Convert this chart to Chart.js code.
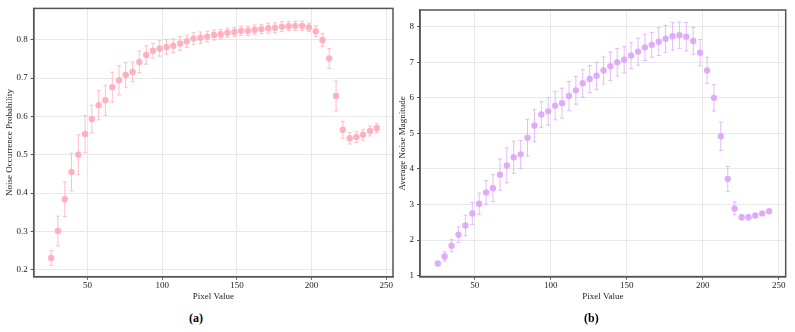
<!DOCTYPE html>
<html>
<head>
<meta charset="utf-8">
<script src="https://cdn.jsdelivr.net/npm/chart.js@4"></script>
<style>
  body { margin: 0; background: #fff; width: 795px; height: 332px; position: relative; overflow: hidden; }
  .box { position: absolute; top: 0; }
  .cap { position: absolute; top: 311px; font: bold 12px "Liberation Serif", serif; color: #000; }
</style>
</head>
<body>
<div class="box" style="left:0;width:397px;height:305px"><canvas id="chartA"></canvas></div>
<div class="box" style="left:394px;width:401px;height:305px"><canvas id="chartB"></canvas></div>
<div class="cap" style="left:189px">(a)</div>
<div class="cap" style="left:584px">(b)</div>
<script>
// pixel value bins (x)
const pixelValues = [25.7, 30.2, 34.8, 39.3, 43.9, 48.4, 52.9, 57.5, 62.0, 66.6,
  71.1, 75.6, 80.2, 84.7, 89.3, 93.8, 98.3, 102.9, 107.4, 112.0,
  116.5, 121.0, 125.6, 130.1, 134.7, 139.2, 143.7, 148.3, 152.8, 157.4,
  161.9, 166.4, 171.0, 175.5, 180.1, 184.6, 189.1, 193.7, 198.2, 202.8,
  207.3, 211.8, 216.4, 220.9, 225.5, 230.0, 234.5, 239.1, 243.6];

// (a) noise occurrence probability + error
const occurrenceProb = [0.231, 0.301, 0.384, 0.455, 0.500, 0.554, 0.593, 0.629, 0.642, 0.676,
  0.694, 0.708, 0.716, 0.742, 0.760, 0.771, 0.777, 0.781, 0.784, 0.790,
  0.796, 0.803, 0.805, 0.808, 0.812, 0.814, 0.818, 0.820, 0.823, 0.823,
  0.826, 0.828, 0.830, 0.831, 0.834, 0.835, 0.836, 0.836, 0.832, 0.822,
  0.799, 0.751, 0.653, 0.565, 0.543, 0.546, 0.552, 0.562, 0.570];
const occurrenceErr = [0.019, 0.039, 0.045, 0.049, 0.052, 0.048, 0.036, 0.038, 0.039, 0.039,
  0.038, 0.032, 0.026, 0.028, 0.024, 0.019, 0.020, 0.019, 0.018, 0.018,
  0.016, 0.015, 0.015, 0.014, 0.013, 0.012, 0.012, 0.012, 0.012, 0.012,
  0.012, 0.012, 0.013, 0.013, 0.013, 0.012, 0.012, 0.012, 0.011, 0.014,
  0.017, 0.026, 0.039, 0.022, 0.015, 0.014, 0.014, 0.013, 0.012];

// (b) average noise magnitude + error
const noiseMagnitude = [1.34, 1.54, 1.84, 2.15, 2.41, 2.75, 3.02, 3.34, 3.46, 3.84,
  4.10, 4.33, 4.41, 4.88, 5.22, 5.53, 5.62, 5.78, 5.85, 6.05,
  6.21, 6.41, 6.53, 6.62, 6.77, 6.89, 7.00, 7.07, 7.19, 7.30,
  7.42, 7.49, 7.58, 7.66, 7.73, 7.76, 7.72, 7.60, 7.27, 6.77,
  6.00, 4.92, 3.72, 2.89, 2.64, 2.64, 2.69, 2.75, 2.81];
const magnitudeErr = [0.06, 0.13, 0.17, 0.22, 0.29, 0.31, 0.30, 0.33, 0.38, 0.44,
  0.49, 0.45, 0.39, 0.52, 0.45, 0.36, 0.39, 0.40, 0.42, 0.41,
  0.39, 0.39, 0.38, 0.38, 0.38, 0.40, 0.39, 0.37, 0.37, 0.38,
  0.37, 0.35, 0.39, 0.38, 0.39, 0.37, 0.40, 0.38, 0.37, 0.37,
  0.37, 0.40, 0.35, 0.18, 0.07, 0.07, 0.05, 0.04, 0.04];

// tick labels
const xTicks = [50, 100, 150, 200, 250];
const yTicksA = [0.2, 0.3, 0.4, 0.5, 0.6, 0.7, 0.8];
const yTicksB = [1, 2, 3, 4, 5, 6, 7, 8];

const serif = '"Liberation Serif", "Times New Roman", serif';

// error bars drawn under the points
const errorBars = {
    id: "errorBars",
    beforeDatasetsDraw(chart, args, opts) {
        const c = chart.ctx, xs = chart.scales.x, ys = chart.scales.y;
        c.save();
        c.strokeStyle = opts.color;
        c.lineWidth = 1;
        chart.data.datasets[0].data.forEach((p, i) => {
            const e = opts.errors[i];
            const px = xs.getPixelForValue(p.x);
            const top = ys.getPixelForValue(p.y + e);
            const bot = ys.getPixelForValue(p.y - e);
            c.beginPath();
            c.moveTo(px, top); c.lineTo(px, bot);
            c.moveTo(px - 2, top); c.lineTo(px + 2, top);
            c.moveTo(px - 2, bot); c.lineTo(px + 2, bot);
            c.stroke();
        });
        c.restore();
    }
};

// box around the plot area
const frame = {
    id: "frame",
    afterDraw(chart) {
        const a = chart.chartArea, c = chart.ctx;
        c.save();
        c.strokeStyle = "#555";
        c.lineWidth = 1.5;
        c.strokeRect(a.left, a.top, a.right - a.left, a.bottom - a.top);
        c.restore();
    }
};

function makeChart(id, ys, errs, ticks, yMin, yMax, yTitle, color, barColor, yWidth, pad, titlePad) {
    return new Chart(document.getElementById(id), {
        type: "scatter",
        data: {
            datasets: [{
                data: pixelValues.map((x, i) => ({ x: x, y: ys[i] })),
                backgroundColor: color,
                borderWidth: 0,
                pointRadius: 3.2,
            }],
        },
        plugins: [errorBars, frame],
        options: {
            responsive: true,
            maintainAspectRatio: false,
            animation: false,
            layout: { padding: pad },
            plugins: {
                legend: { display: false },
                tooltip: { enabled: false },
                errorBars: { errors: errs, color: barColor },
            },
            scales: {
                x: {
                    min: 14, max: 254.5,
                    afterBuildTicks: s => { s.ticks = xTicks.map(v => ({ value: v })); },
                    afterFit: s => { s.height = 28.3; },
                    grid: { color: "#e8e8e8", tickColor: "#555", tickLength: 3 },
                    border: { color: "#555", width: 1.5 },
                    ticks: { font: { family: serif, size: 9 }, color: "#222", padding: 1, maxRotation: 0 },
                    title: { display: true, text: "Pixel Value", font: { family: serif, size: 9 }, color: "#222", padding: { top: 0, bottom: 3 } },
                },
                y: {
                    min: yMin, max: yMax,
                    afterBuildTicks: s => { s.ticks = ticks.map(v => ({ value: v })); },
                    afterFit: s => { s.width = yWidth; },
                    grid: { color: "#e8e8e8", tickColor: "#555", tickLength: 3 },
                    border: { color: "#555", width: 1.5 },
                    ticks: { font: { family: serif, size: 9 }, color: "#222", padding: 3 },
                    title: { display: true, text: yTitle, font: { family: serif, size: 9 }, color: "#222", padding: { top: titlePad, bottom: 0 } },
                },
            },
        },
    });
}

makeChart("chartA", occurrenceProb, occurrenceErr, yTicksA, 0.182, 0.8815,
    "Noise Occurrence Probability", "rgba(255,170,185,0.9)", "rgba(255,170,185,0.75)",
    33.7, { top: 8, right: 1.3, left: 0, bottom: 0 }, 4);
makeChart("chartB", noiseMagnitude, magnitudeErr, yTicksB, 0.97, 8.47,
    "Average Noise Magnitude", "rgba(220,165,248,0.9)", "rgba(220,165,248,0.75)",
    26, { top: 10, right: 9.3, left: 0, bottom: 0 }, 3);
</script>
</body>
</html>
